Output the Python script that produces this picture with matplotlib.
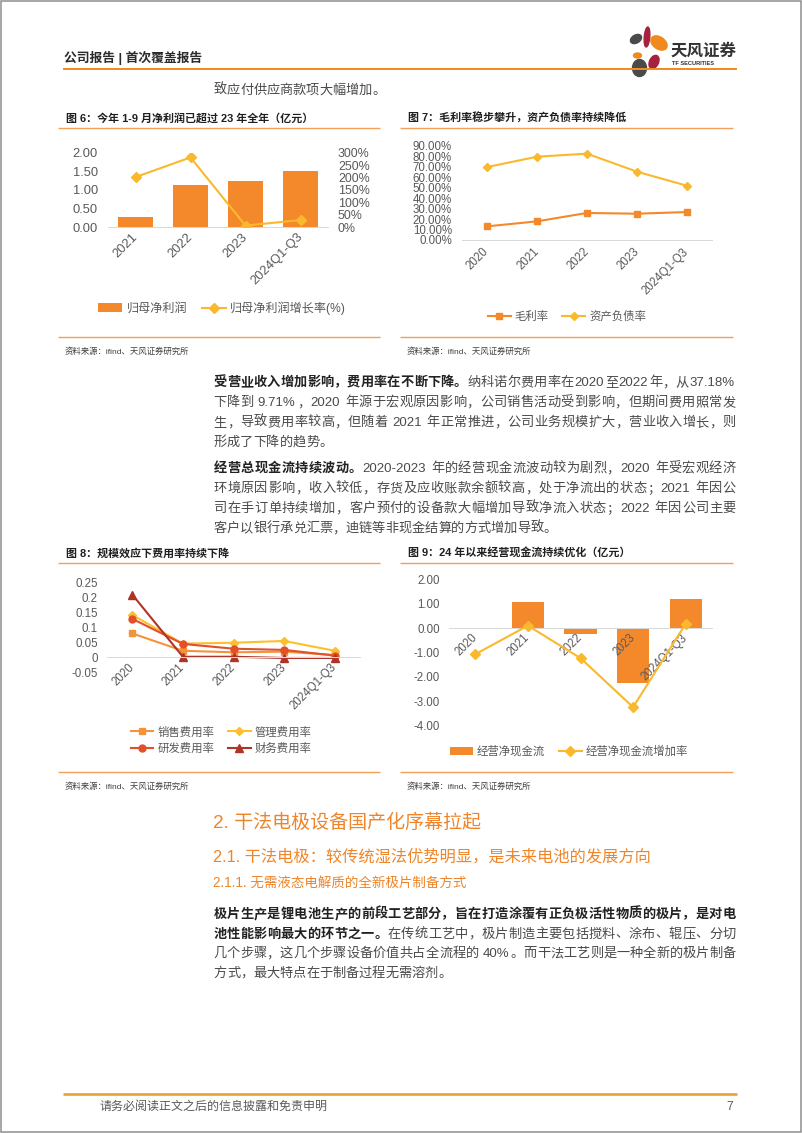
import matplotlib
matplotlib.use('Agg')
import matplotlib.pyplot as plt
from matplotlib.patches import Ellipse, Rectangle

# ------------------------------------------------------------------ data
fig6_cats = ['2021', '2022', '2023', '2024Q1-Q3']
fig6_profit = [0.28, 1.13, 1.24, 1.51]          # 亿元
fig6_growth = [202, 281, 7, 29]                  # %
fig6_yticks = [0.0, 0.5, 1.0, 1.5, 2.0]
fig6_y2ticks = [0, 50, 100, 150, 200, 250, 300]

fig7_cats = ['2020', '2021', '2022', '2023', '2024Q1-Q3']
fig7_gross = [13.0, 17.8, 25.8, 25.1, 26.7]      # %
fig7_debt = [69.6, 79.5, 82.4, 65.2, 51.8]       # %
fig7_yticks = [0, 10, 20, 30, 40, 50, 60, 70, 80, 90]

fig8_cats = ['2020', '2021', '2022', '2023', '2024Q1-Q3']
fig8_sales = [0.080, 0.022, 0.017, 0.019, 0.008]
fig8_admin = [0.142, 0.046, 0.049, 0.055, 0.022]
fig8_rd = [0.129, 0.045, 0.029, 0.025, 0.006]
fig8_fin = [0.210, 0.002, 0.002, -0.002, -0.002]
fig8_yticks = [-0.05, 0, 0.05, 0.1, 0.15, 0.2, 0.25]
fig8_ylabels = ['-0.05', '0', '0.05', '0.1', '0.15', '0.2', '0.25']

fig9_cats = ['2020', '2021', '2022', '2023', '2024Q1-Q3']
fig9_cash = [-0.04, 1.09, -0.23, -2.23, 1.19]
fig9_rate = [-1.07, 0.10, -1.23, -3.24, 0.18]
fig9_yticks = [-4, -3, -2, -1, 0, 1, 2]

# ------------------------------------------------------------------ setup
W, H = 802, 1133
DPI = 100
PT = 72.0 / DPI
FAM = ['Liberation Sans', 'Noto Sans CJK SC', 'DejaVu Sans']
plt.rcParams['font.family'] = FAM

ORANGE = '#F3892A'
YELLOW = '#FAB92D'
TICK = '#595959'
RULE = '#F3A05A'

fig = plt.figure(figsize=(W / DPI, H / DPI), dpi=DPI)
fig.patch.set_facecolor('white')
renderer = fig.canvas.get_renderer()

ov = fig.add_axes([0, 0, 1, 1])
ov.set_xlim(0, W)
ov.set_ylim(H, 0)
ov.axis('off')
ov.set_zorder(-1)


def hline(x0, x1, y, color, lw_px):
    ov.plot([x0, x1], [y, y], color=color, lw=lw_px * PT,
            solid_capstyle='butt', clip_on=False)


def ptext(x, y, s, size_px, color, weight='normal', ha='left'):
    return ov.text(x, y + 0.38 * size_px, s, fontsize=size_px * PT, color=color,
                   fontweight=weight, ha=ha, va='baseline', clip_on=False)


def draw_line(segs, x0, yc, size, right=None, creg='#4a4a4a', cbold='#222222'):
    toks = []
    for txt, bold in segs:
        run = ''
        for ch in txt:
            if ord(ch) < 128:
                run += ch
            else:
                if run:
                    toks.append((run, bold, False))
                    run = ''
                toks.append((ch, bold, True))
        if run:
            toks.append((run, bold, False))
    base = yc + 0.38 * size
    items = []
    for s, bold, cjk in toks:
        kw = dict(fontsize=size * PT, color=cbold if bold else creg,
                  fontweight='bold' if bold else 'normal', ha='left', va='baseline')
        if cjk:
            t = ov.text(0, base, s, **kw)
            items.append((t, size, 0.05 * size))
        else:
            lead = len(s) - len(s.lstrip(' '))
            trail = len(s) - len(s.rstrip(' '))
            core = s.strip(' ')
            sp = 0.278 * size
            if core:
                t = ov.text(0, base, core, **kw)
                w = t.get_window_extent(renderer=renderer).width + 0.1 * size
            else:
                t, w = None, 0
            items.append((t, lead * sp + w + trail * sp, lead * sp + 0.05 * size))
    total = sum(it[1] for it in items)
    gap = 0
    if right is not None and len(items) > 1:
        gap = (right - x0 - total) / (len(items) - 1)
    x = x0
    for t, w, off in items:
        if t is not None:
            t.set_x(x + off)
        x += w + gap


def paragraph(lines, x0, x1, y0, size, step):
    for i, segs in enumerate(lines):
        last = i == len(lines) - 1
        draw_line(segs, x0, y0 + i * step, size, None if last else x1)


def px_axes(x0, x1, ytop, ybot):
    ax = fig.add_axes([x0 / W, 1 - ybot / H, (x1 - x0) / W, (ybot - ytop) / H])
    ax.set_facecolor('none')
    return ax


def style(ax, cats, ypad_px, zero=False, size=8.3):
    for s in ['top', 'right', 'left']:
        ax.spines[s].set_visible(False)
    ax.spines['bottom'].set_color('#D9D9D9')
    ax.spines['bottom'].set_linewidth(1.0 * PT)
    if zero:
        ax.spines['bottom'].set_position(('data', 0))
    ax.tick_params(axis='both', length=0, labelsize=size, colors=TICK)
    ax.tick_params(axis='y', pad=ypad_px * PT)
    ax.tick_params(axis='x', pad=8 * PT)
    ax.set_xlim(-0.5, len(cats) - 0.5)
    ax.set_xticks(range(len(cats)))
    ax.set_xticklabels(cats, rotation=45, ha='right', va='center',
                       rotation_mode='anchor')
    for lab in ax.get_xticklabels() + ax.get_yticklabels():
        lab.set_fontfamily(['Liberation Sans'])


def legend(ax, handles, labels, cx, cy, ncol, size=8.2):
    lg = ax.legend(handles, labels, loc='center', bbox_to_anchor=(cx / W, 1 - cy / H),
                   bbox_transform=fig.transFigure, ncol=ncol, frameon=False,
                   fontsize=size, handlelength=2.0, handletextpad=0.35,
                   columnspacing=1.2, borderpad=0, borderaxespad=0, labelspacing=0.45)
    for t in lg.get_texts():
        t.set_color(TICK)
    return lg


def chart_frame(x0, x1, ytitle, title, yrule1, yrule2, ysrc):
    ptext(x0 + 8, ytitle, title, 11, '#1f1f1f', weight='bold')
    hline(x0, x1, yrule1, RULE, 1.4)
    hline(x0, x1, yrule2, RULE, 1.4)
    ptext(x0 + 7, ysrc, '资料来源：ifind、天风证券研究所', 8.4, '#404040')


# ------------------------------------------------------------------ page chrome
ov.add_patch(Rectangle((0.75, 0.75), W - 1.5, H - 1.5, fill=False, ec='#8c8c8c',
                       lw=1.5 * PT, clip_on=False))
ptext(64, 57, '公司报告 | 首次覆盖报告', 12.8, '#2b2b2b', weight='bold')
hline(63, 737, 68.5, '#F08C22', 2.0)
# logo petals
petals = [((647, 37), 5.5, 20, 5, '#A6213F'),
          ((659, 43), 18, 12, 35, '#F08A1E'),
          ((636, 39), 12, 8, -30, '#4a4a4a'),
          ((637.5, 55.5), 8, 5, 0, '#F08A1E'),
          ((639.5, 68), 14, 17, 0, '#4a4a4a'),
          ((654, 62), 9, 14, 25, '#A6213F')]
for (cx, cy), w, h, ang, col in petals:
    ov.add_patch(Ellipse((cx, cy), w, h, angle=ang, color=col, clip_on=False))
ptext(671, 49, '天风证券', 16.5, '#333333', weight='bold')
ptext(672, 63, 'TF SECURITIES', 5.6, '#333333', weight='bold')

hline(63, 737, 1094, '#EBA032', 2.6)
ptext(100, 1105, '请务必阅读正文之后的信息披露和免责申明', 12, '#595959')
ptext(733, 1105, '7', 12, '#595959', ha='right')

# ------------------------------------------------------------------ body text
BODY = 13.2
X0, X1 = 213, 735
draw_line([('致应付供应商款项大幅增加。', False)], X0, 89, BODY)

para1 = [
    [('受营业收入增加影响，费用率在不断下降。', True), ('纳科诺尔费用率在2020至2022年，从37.18%', False)],
    [('下降到 9.71%，2020 年源于宏观原因影响，公司销售活动受到影响，但期间费用照常发', False)],
    [('生，导致费用率较高，但随着 2021 年正常推进，公司业务规模扩大，营业收入增长，则', False)],
    [('形成了下降的趋势。', False)],
]
paragraph(para1, X0, X1, 381, BODY, 20)

para2 = [
    [('经营总现金流持续波动。', True), ('2020-2023 年的经营现金流波动较为剧烈，2020 年受宏观经济', False)],
    [('环境原因影响，收入较低，存货及应收账款余额较高，处于净流出的状态；2021 年因公', False)],
    [('司在手订单持续增加，客户预付的设备款大幅增加导致净流入状态；2022 年因公司主要', False)],
    [('客户以银行承兑汇票，迪链等非现金结算的方式增加导致。', False)],
]
paragraph(para2, X0, X1, 467, BODY, 20)

HEAD = '#EF8528'
ptext(213, 821, '2. 干法电极设备国产化序幕拉起', 19, HEAD, weight=500)
ptext(213, 855, '2.1. 干法电极：较传统湿法优势明显，是未来电池的发展方向', 16.2, HEAD, weight=500)
ptext(213, 883, '2.1.1. 无需液态电解质的全新极片制备方式', 13.5, HEAD)

para3 = [
    [('极片生产是锂电池生产的前段工艺部分，旨在打造涂覆有正负极活性物质的极片，是对电', True)],
    [('池性能影响最大的环节之一。', True), ('在传统工艺中，极片制造主要包括搅料、涂布、辊压、分切', False)],
    [('几个步骤，这几个步骤设备价值共占全流程的 40%。而干法工艺则是一种全新的极片制备', False)],
    [('方式，最大特点在于制备过程无需溶剂。', False)],
]
paragraph(para3, X0, X1, 913, BODY, 19.5)

# ------------------------------------------------------------------ figure 6
chart_frame(58, 380, 118, '图 6：今年 1-9 月净利润已超过 23 年全年（亿元）', 127.7, 337.3, 351)
ax6 = px_axes(108, 328, 152.7, 227.3)
x6 = list(range(len(fig6_cats)))
bars6 = ax6.bar(x6, fig6_profit, width=0.62, color=ORANGE, zorder=2)
ax6.set_ylim(0, 2.0)
ax6.set_yticks(fig6_yticks)
ax6.set_yticklabels([f'{v:.2f}' for v in fig6_yticks])
style(ax6, fig6_cats, 10, size=9.3)
ax62 = ax6.twinx()
ax62.set_facecolor('none')
line6, = ax62.plot(x6, fig6_growth, color=YELLOW, lw=1.5, marker='D', ms=4.8,
                   markerfacecolor=YELLOW, markeredgecolor=YELLOW)
ax62.set_ylim(0, 300)
ax62.set_yticks(fig6_y2ticks)
ax62.set_yticklabels([f'{v}%' for v in fig6_y2ticks])
for s in ax62.spines.values():
    s.set_visible(False)
ax62.tick_params(axis='y', length=0, labelsize=8.9, colors=TICK, pad=10 * PT)
for lab in ax62.get_yticklabels():
    lab.set_fontfamily(['Liberation Sans'])
legend(ax62, [bars6, line6], ['归母净利润', '归母净利润增长率(%)'], 222, 308, 2, size=8.7)

# ------------------------------------------------------------------ figure 7
chart_frame(400, 733, 118, '图 7：毛利率稳步攀升，资产负债率持续降低', 127.7, 337.3, 351)
ax7 = px_axes(462, 712, 145.7, 240)
x7 = list(range(len(fig7_cats)))
l7a, = ax7.plot(x7, fig7_gross, color=ORANGE, lw=1.5, marker='s', ms=5)
l7b, = ax7.plot(x7, fig7_debt, color=YELLOW, lw=1.5, marker='D', ms=4.2)
ax7.set_ylim(0, 90)
ax7.set_yticks(fig7_yticks)
ax7.set_yticklabels([f'{v:.2f}%' for v in fig7_yticks])
style(ax7, fig7_cats, 10)
ax7.tick_params(axis='x', pad=10 * PT)
legend(ax7, [l7a, l7b], ['毛利率', '资产负债率'], 567, 316, 2)

# ------------------------------------------------------------------ figure 8
chart_frame(58, 380, 553, '图 8：规模效应下费用率持续下降', 562.7, 772.3, 786)
ax8 = px_axes(107, 360, 582.7, 672.3)
x8 = list(range(len(fig8_cats)))
l8a, = ax8.plot(x8, fig8_sales, color='#F3943A', lw=1.5, marker='s', ms=4.6)
l8b, = ax8.plot(x8, fig8_admin, color='#FBC02D', lw=1.5, marker='D', ms=4.2)
l8c, = ax8.plot(x8, fig8_rd, color='#E2502A', lw=1.5, marker='o', ms=5)
l8d, = ax8.plot(x8, fig8_fin, color='#AE3428', lw=1.5, marker='^', ms=5.2)
ax8.set_ylim(-0.05, 0.25)
ax8.set_yticks(fig8_yticks)
ax8.set_yticklabels(fig8_ylabels)
style(ax8, fig8_cats, 9, zero=True)
legend(ax8, [l8a, l8c, l8b, l8d], ['销售费用率', '研发费用率', '管理费用率', '财务费用率'],
       221, 740, 2)

# ------------------------------------------------------------------ figure 9
chart_frame(400, 733, 552, '图 9：24 年以来经营现金流持续优化（亿元）', 562.7, 772.3, 786)
ax9 = px_axes(449, 712, 579.3, 725.7)
ax9.set_axisbelow(False)
x9 = list(range(len(fig9_cats)))
bars9 = ax9.bar(x9, fig9_cash, width=0.61, color=ORANGE, zorder=2)
l9, = ax9.plot(x9, fig9_rate, color=YELLOW, lw=1.5, marker='D', ms=4.6, zorder=3)
ax9.set_ylim(-4, 2)
ax9.set_yticks(fig9_yticks)
ax9.set_yticklabels([f'{v:.2f}' for v in fig9_yticks])
style(ax9, fig9_cats, 9, zero=True)
legend(ax9, [bars9, l9], ['经营净现金流', '经营净现金流增加率'], 569, 751, 2)

fig.savefig('out.png', dpi=DPI, facecolor='white')
